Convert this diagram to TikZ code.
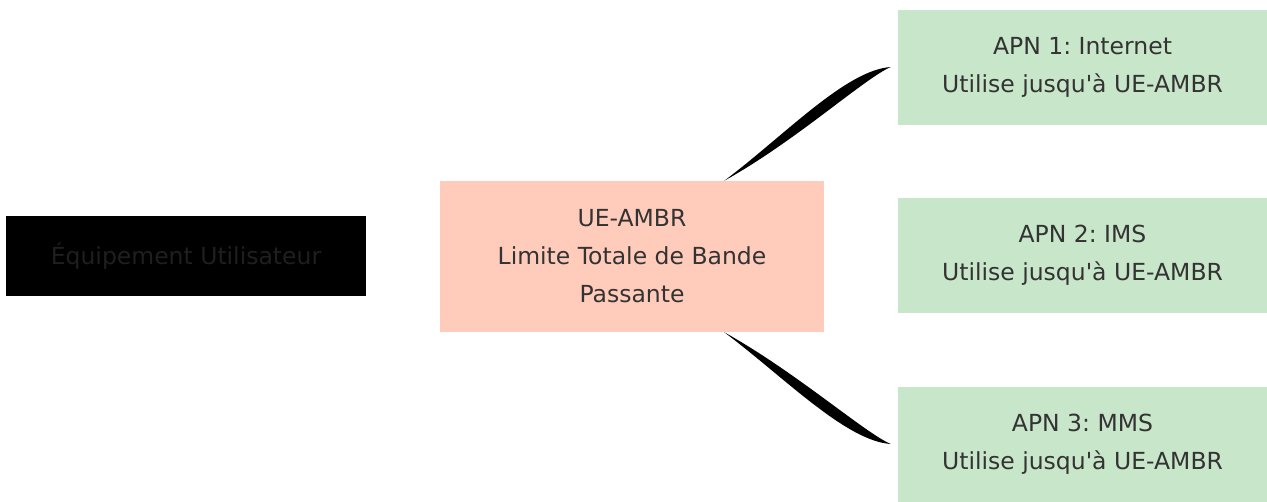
\documentclass[tikz,border=0pt]{standalone}
\usepackage{fontspec}
\setmainfont{DejaVu Sans}
\usetikzlibrary{calc}
\definecolor{ambrfill}{HTML}{FFCCBC}
\definecolor{apnfill}{HTML}{C8E6C9}
\definecolor{txtgray}{HTML}{333333}
\frenchspacing
\tikzset{
  box/.style={rectangle, inner sep=0pt, align=center, text=txtgray,
    font=\fontsize{23.5}{38}\selectfont},
  apnbox/.style={box, fill=apnfill, minimum width=369pt, minimum height=115pt},
}

\begin{document}
\begin{tikzpicture}[x=1pt,y=-1pt]
        \useasboundingbox (0,0) rectangle (1267,501);

        % Equipment node
        \node[box, fill=black, text=black!88!white, minimum width=360pt, minimum height=80pt] (ue) at (186,256) {Équipement Utilisateur};

        % Aggregate limit
        \node[box, fill=ambrfill, minimum width=384pt, minimum height=151pt] (ambr) at (632,256.5) {UE-AMBR\\Limite Totale de Bande\\Passante};

        % APNs
        \node[apnbox] (apn1) at (1082.5,67) {APN 1: Internet\\Utilise jusqu\textquotesingle à UE-AMBR};
        \node[apnbox] (apn2) at (1082.5,255.5) {APN 2: IMS\\Utilise jusqu\textquotesingle à UE-AMBR};
        \node[apnbox] (apn3) at (1082.5,444) {APN 3: MMS\\Utilise jusqu\textquotesingle à UE-AMBR};

        % Tapered links
        \coordinate (s1) at ($(ambr.north east)+(-100,0)$);
        \coordinate (e1) at ($(apn1.west)+(-7,0)$);
        \coordinate (s3) at ($(ambr.south east)+(-100,0)$);
        \coordinate (e3) at ($(apn3.west)+(-7,0)$);
        \fill (s1) .. controls ($(s1)+(60,-45)$) and ($(e1)+(-45,3)$) .. (e1)
              .. controls ($(e1)+(-26,11)$) and ($(s1)+(72,-40)$) .. (s1);
        \fill (s3) .. controls ($(s3)+(60,45)$) and ($(e3)+(-45,-3)$) .. (e3)
              .. controls ($(e3)+(-26,-11)$) and ($(s3)+(72,40)$) .. (s3);
    \end{tikzpicture}
\end{document}
